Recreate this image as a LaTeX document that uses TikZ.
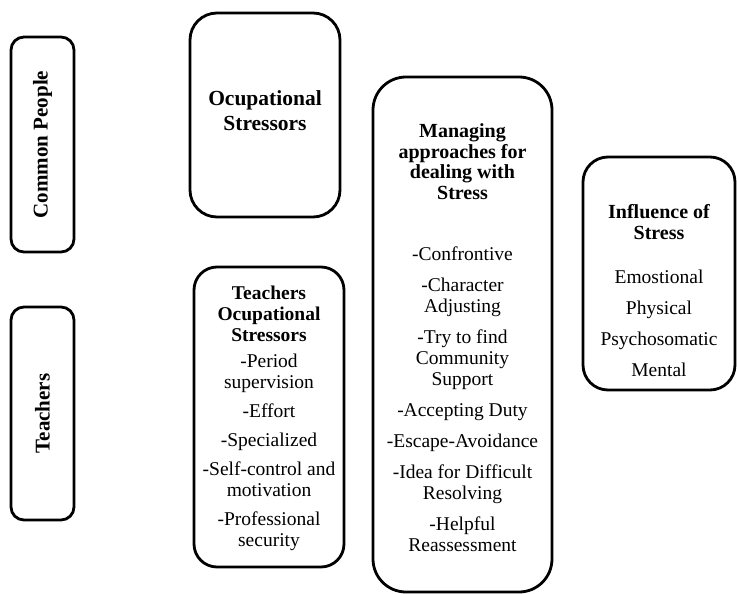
\documentclass[tikz,border=0pt]{standalone}
\usepackage{fontspec}
\setmainfont{Liberation Serif}
\begin{document}
\begin{tikzpicture}[x=1pt,y=-1pt,
  frame/.style={draw=black, line width=2.8pt, fill=white, inner sep=0pt, rectangle},
  head/.style={font=\fontsize{20}{20.5}\selectfont\bfseries, align=center, anchor=base, inner sep=0pt},
  items/.style={font=\fontsize{19.5}{21}\selectfont, align=center, anchor=base, inner sep=0pt},
  side/.style={font=\fontsize{21}{21}\selectfont\bfseries, rotate=90, inner sep=0pt}]
\useasboundingbox (0,0) rectangle (737,594);

% left column: the two groups
\node[frame, rounded corners=13pt, minimum width=63pt, minimum height=215pt] (common) at (42.5,144.5) {};
\node[side] (commonlabel) at (common.center) {Common People};
\node[frame, rounded corners=13pt, minimum width=63pt, minimum height=213pt] (teachers) at (42.5,413.5) {};
\node[side] (teacherslabel) at (teachers.center) {Teachers};

% second column: stressors (text blocks are placed by the baseline of their last line)
\node[frame, rounded corners=27pt, minimum width=150pt, minimum height=204pt] (ostress) at (265,115) {};
\node[head, font=\fontsize{21.5}{25}\selectfont\bfseries] (ostresstext) at (265,131) {Ocupational\\Stressors};

\node[frame, rounded corners=23pt, minimum width=150pt, minimum height=300pt] (tstress) at (269,417) {};
\node[head, font=\fontsize{19.5}{21}\selectfont\bfseries] (tstresshead) at (269,341) {Teachers\\Ocupational\\Stressors};
\node[items] (tstresslist) at (269,546) {-Period\\supervision\\[8pt]-Effort\\[8pt]-Specialized\\[8pt]-Self-control and\\motivation\\[8pt]-Professional\\security};

% third column: coping approaches
\node[frame, rounded corners=33pt, minimum width=179pt, minimum height=515pt] (manage) at (462.5,334.5) {};
\node[head] (managehead) at (462.5,199) {Managing\\approaches for\\dealing with\\Stress};
\node[items] (managelist) at (462.5,551) {-Confrontive\\[10pt]-Character\\Adjusting\\[10pt]-Try to find\\Community\\Support\\[10pt]-Accepting Duty\\[10pt]-Escape-Avoidance\\[10pt]-Idea for Difficult\\Resolving\\[10pt]-Helpful\\Reassessment};

% fourth column: effects
\node[frame, rounded corners=25pt, minimum width=152pt, minimum height=233pt] (influence) at (659,273.5) {};
\node[head] (influencehead) at (659,239) {Influence of\\Stress};
\node[items] (influencelist) at (659,376) {Emostional\\[10pt]Physical\\[10pt]Psychosomatic\\[10pt]Mental};
\end{tikzpicture}
\end{document}
